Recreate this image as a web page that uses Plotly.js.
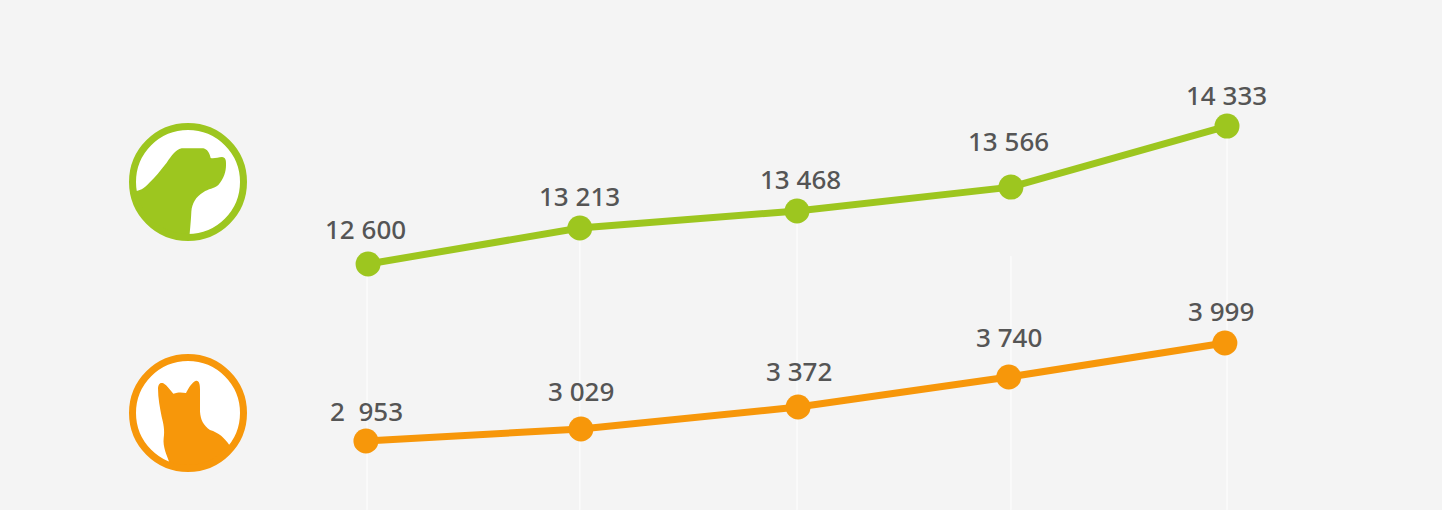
<!DOCTYPE html>
<html>
<head>
<meta charset="utf-8">
<script src="https://cdn.plot.ly/plotly-3.0.1.min.js"></script>
<style>html,body{margin:0;padding:0;background:#f4f4f4;overflow:hidden}#chart{width:1442px;height:510px}</style>
</head>
<body>
<div id="chart"></div>
<script>
// Printed values
const dogLabels = ["12 600", "13 213", "13 468", "13 566", "14 333"];
const catLabels = ["2\u00a0\u00a0953", "3 029", "3 372", "3 740", "3 999"];
// Heights as drawn in the picture (the source chart is not strictly to scale)
const dogLevels = [12600, 13052, 13266, 13566, 14333];
const catLevels = [2953, 3081, 3316, 3636, 3999];
// Column positions as drawn
const dogColumns = [0.005, 0.99, 2, 2.995, 4];
const catColumns = [-0.005, 0.995, 2.005, 2.985, 3.99];
const guideColumns = [0, 0.99, 2, 2.995, 4];
const guideTops = [12600, 13052, 13266, 12700, 14333];
const guideFloor = 9510;

const GREEN = "#9dc61f", ORANGE = "#f7970a", TEXT = "#555555";
const dogOffsets = {dx: [-3, 0, 3, -2, -1], dy: [35, 32, 32, 46, 31]};
const catOffsets = {dx: [1, 0, 1, 0, -4], dy: [30, 38, 36, 40, 32]};
const FONT = "'Noto Sans', 'Open Sans', sans-serif";

const guideX = [], guideY = [];
guideColumns.forEach((c, i) => { guideX.push(c, c, null); guideY.push(guideTops[i], guideFloor, null); });

const traces = [
  {x: guideX, y: guideY, mode: "lines", line: {color: "#ffffff", width: 1}, hoverinfo: "skip", showlegend: false, xaxis: "x", yaxis: "y"},
  {x: dogColumns, y: dogLevels, mode: "lines+markers", line: {color: GREEN, width: 7}, marker: {color: GREEN, size: 25}, hoverinfo: "skip", showlegend: false, xaxis: "x", yaxis: "y"},
  {x: catColumns, y: catLevels, mode: "lines+markers", line: {color: ORANGE, width: 7}, marker: {color: ORANGE, size: 25}, hoverinfo: "skip", showlegend: false, xaxis: "x", yaxis: "y2"}
];

function labelSet(xs, ys, texts, off, yref) {
  return texts.map((t, i) => ({
    x: xs[i], y: ys[i], xref: "x", yref: yref, text: t, showarrow: false,
    xanchor: "center", yanchor: "middle", xshift: off.dx[i], yshift: off.dy[i],
    font: {family: FONT, size: 26, color: TEXT, weight: 500}
  }));
}

// Icon outlines are written in the zoomed-crop coordinates of the reference and mapped to paper space
function toPaper(path, ox, oy) {
  let isX = true;
  return path.replace(/-?\d+(\.\d+)?/g, m => {
    const v = parseFloat(m);
    const out = isX ? (ox + v / 3) / 1442 : 1 - (oy + v / 3) / 510;
    isX = !isX;
    return out.toFixed(5);
  });
}
function circleShape(cx, cy, r, w, color) {
  return {type: "circle", xref: "paper", yref: "paper",
    x0: (cx - r) / 1442, x1: (cx + r) / 1442, y0: 1 - (cy + r) / 510, y1: 1 - (cy - r) / 510,
    fillcolor: "rgba(0,0,0,0)", line: {color: color, width: w}, layer: "above"};
}
function discShape(cx, cy, r) {
  return {type: "circle", xref: "paper", yref: "paper",
    x0: (cx - r) / 1442, x1: (cx + r) / 1442, y0: 1 - (cy + r) / 510, y1: 1 - (cy - r) / 510,
    fillcolor: "#ffffff", line: {width: 0}, layer: "above"};
}
const dogPath = "M 70 243 C 88 243 103 236 118 218 C 135 203 152 180 170 158 C 185 138 195 120 215 115 L 280 115 C 292 118 298 128 302 144 C 312 146 325 142 336 141 C 346 142 349 150 348 165 C 348 185 342 205 325 225 C 312 236 295 236 280 247 C 258 260 246 280 244 305 C 243 330 241 350 238 384 L 234 384 C 141 384 66 309 66 216 Z";
const catPath = "M 178 352 C 170 330 158 305 161 280 C 165 255 160 235 155 215 C 150 190 144 160 144 130 C 145 115 152 112 160 115 C 172 122 180 135 190 146 C 205 141 215 142 228 144 C 235 130 245 112 258 107 C 268 106 270 118 270 135 L 270 200 C 272 225 280 240 300 255 C 325 262 345 280 358 300 C 340 345 290 378 234 378 C 215 378 195 365 178 352 Z";
function iconPath(p, ox, oy, color) {
  return {type: "path", xref: "paper", yref: "paper", path: toPaper(p, ox, oy), fillcolor: color, line: {width: 0}, layer: "above"};
}

const layout = {
  width: 1442, height: 510,
  margin: {l: 0, r: 0, t: 0, b: 0, pad: 0},
  paper_bgcolor: "#f4f4f4", plot_bgcolor: "#f4f4f4",
  showlegend: false,
  xaxis: {range: [-1.707, 5.0], visible: false, fixedrange: true},
  yaxis: {range: [9509.6, 15916.6], visible: false, fixedrange: true},
  yaxis2: {range: [2216.6, 7659.5], visible: false, overlaying: "y", fixedrange: true},
  annotations: labelSet(dogColumns, dogLevels, dogLabels, dogOffsets, "y")
    .concat(labelSet(catColumns, catLevels, catLabels, catOffsets, "y2")),
  shapes: [
    discShape(188, 182, 56),
    iconPath(dogPath, 110, 110, GREEN),
    circleShape(188, 182, 55.5, 7, GREEN),
    discShape(188, 413, 56),
    iconPath(catPath, 110, 345, ORANGE),
    circleShape(188, 413, 55.5, 7, ORANGE)
  ]
};
Plotly.newPlot("chart", traces, layout, {displayModeBar: false, staticPlot: true});
</script>
</body>
</html>
